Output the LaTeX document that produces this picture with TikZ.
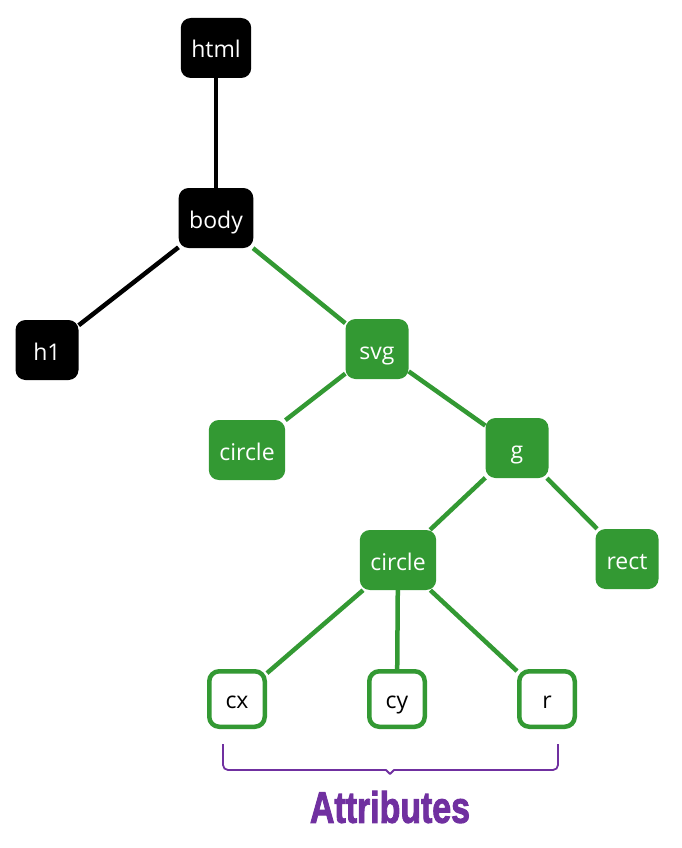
\documentclass[tikz,border=0pt]{standalone}
\usepackage{fontspec}
\setmainfont{Open Sans}
\newfontfamily\attrfont{Liberation Sans}[BoldFeatures={FakeBold=2.5}]
\definecolor{tgreen}{RGB}{51,153,51}
\definecolor{tpurple}{RGB}{112,48,160}
\tikzset{
  base/.style={rounded corners=10pt, minimum height=60pt, minimum width=63pt, inner xsep=10.5pt, inner ysep=0pt, text height=20pt, text depth=0pt, font=\fontsize{23}{27}\selectfont, text=white},
  blacknode/.style={base, fill=black},
  greennode/.style={base, fill=tgreen},
  attrnode/.style={rounded corners=10pt, draw=tgreen, line width=4.5pt, fill=white, minimum size=55.5pt, inner sep=0pt, text height=19pt, text depth=0pt, font=\fontsize{23}{27}\selectfont, text=black},
  blackline/.style={line width=4.5pt, draw=black},
  greenline/.style={line width=4.5pt, draw=tgreen},
}
\begin{document}
\begin{tikzpicture}[x=1pt,y=-1pt]
\useasboundingbox (0,0) rectangle (681,848);
\node[blacknode] (html) at (216,48) {html};
\node[blacknode] (body) at (216,218) {body};
\node[blacknode] (h1) at (47,350) {h1};
\node[greennode] (svg) at (377,349) {svg};
\node[greennode] (c1) at (247,450) {circle};
\node[greennode] (g) at (517,448) {g};
\node[greennode] (c2) at (398,560) {circle};
\node[greennode] (rect) at (627,559) {rect};
\node[attrnode] (cx) at (237,699) {cx};
\node[attrnode] (cy) at (397,699) {cy};
\node[attrnode] (r) at (547,699) {r};
\draw[blackline] (html) -- (body);
\draw[blackline] (body) -- (h1);
\draw[greenline] (body) -- (svg);
\draw[greenline] (svg) -- (c1);
\draw[greenline] (svg) -- (g);
\draw[greenline] (g) -- (c2);
\draw[greenline] (g) -- (rect);
\draw[greenline] (c2) -- (cx);
\draw[greenline] (c2) -- (cy);
\draw[greenline] (c2) -- (r);
\draw[tpurple, line width=1.8pt, line join=round]
  (223,744) -- (223,765) arc[start angle=180, end angle=90, radius=5] -- (386,770)
  -- (390,774) -- (394,770) -- (553,770) arc[start angle=90, end angle=0, radius=5] -- (558,744);
\node[text=tpurple, font=\attrfont\bfseries\fontsize{44}{48}\selectfont, inner sep=0pt] (attr) at (390,807) {\scalebox{0.77}[1]{Attributes}};
\end{tikzpicture}
\end{document}
